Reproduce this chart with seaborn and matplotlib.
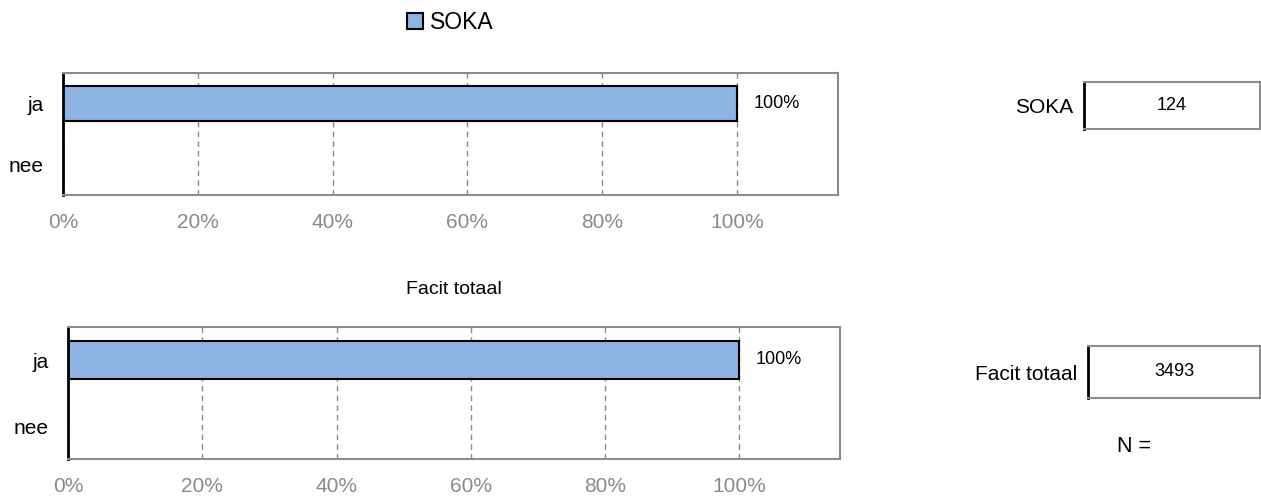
import matplotlib
matplotlib.use("Agg")
import matplotlib.pyplot as plt
import seaborn as sns
import pandas as pd
from matplotlib.ticker import PercentFormatter

sns.set_style("white")
plt.rcParams["font.family"] = ["Liberation Sans", "DejaVu Sans"]
plt.rcParams["text.color"] = "black"

# data
categories = ["ja", "nee"]
soka_pct = [1.0, 0.0]
facit_pct = [1.0, 0.0]
group_names = ["SOKA", "Facit totaal"]
n_values = [124, 3493]

bar_color = "#8DB3E2"
grid_grey = "#8c8c8c"
tick_grey = "#8a8a8a"

W, H = 1261, 496
fig = plt.figure(figsize=(W / 100, H / 100), dpi=100)


def px_axes(left, top, right, bottom):
    return fig.add_axes([left / W, 1 - bottom / H, (right - left) / W, (bottom - top) / H])


def style_frame(ax):
    for side in ["top", "right", "bottom"]:
        ax.spines[side].set_color(grid_grey)
        ax.spines[side].set_linewidth(1.5)
    ax.spines["left"].set_color("black")
    ax.spines["left"].set_linewidth(2)


def bar_panel(ax, values, label=None):
    df = pd.DataFrame({"cat": categories, "pct": values})
    sns.barplot(
        data=df, x="pct", y="cat", orient="h", color=bar_color, width=0.57,
        edgecolor="black", linewidth=1.5, saturation=1, ax=ax, label=label,
    )
    ax.set_xlim(0, 1.15)
    ax.set_ylim(1.5, -0.5)
    ax.set_xticks([0, 0.2, 0.4, 0.6, 0.8, 1.0])
    ax.xaxis.set_major_formatter(PercentFormatter(1.0, decimals=0))
    ax.grid(axis="x", color=grid_grey, linestyle=(0, (4, 3)), linewidth=1)
    ax.set_axisbelow(True)
    ax.tick_params(axis="x", colors=tick_grey, labelsize=15, length=0, pad=13)
    ax.tick_params(axis="y", colors="black", labelsize=15, length=0, pad=14)
    ax.set_xlabel("")
    ax.set_ylabel("")
    style_frame(ax)
    labels = ["{:.0%}".format(v) if v > 0 else "" for v in values]
    ax.bar_label(ax.containers[0], labels=labels, padding=12, fontsize=13)


def n_box(ax, name, n):
    ax.set_xlim(0, 1)
    ax.set_ylim(0, 1)
    ax.set_xticks([])
    ax.set_yticks([0.5])
    ax.set_yticklabels([name])
    ax.tick_params(axis="y", length=0, labelsize=15, pad=8, colors="black")
    ax.text(0.5, 0.5, str(n), ha="center", va="center", fontsize=13)
    style_frame(ax)


# top panel
ax1 = px_axes(63, 73, 838, 195)
bar_panel(ax1, soka_pct, label=group_names[0])
leg = ax1.legend(
    loc="center", bbox_to_anchor=(0.5, 1 + (73 - 23) / 122), frameon=False,
    fontsize=16.5, handlelength=0.7, handleheight=0.7, handletextpad=0.3,
)

# bottom panel
ax2 = px_axes(68, 327, 840, 459)
bar_panel(ax2, facit_pct)
ax2.set_title(group_names[1], fontsize=14, pad=24)

# N boxes
bx1 = px_axes(1084, 82, 1260, 129)
n_box(bx1, group_names[0], n_values[0])
bx2 = px_axes(1088, 346, 1260, 398)
n_box(bx2, group_names[1], n_values[1])
fig.text(1134 / W, 1 - 447 / H, "N =", ha="center", va="center", fontsize=15.5)

fig.savefig("out.png", dpi=100)
